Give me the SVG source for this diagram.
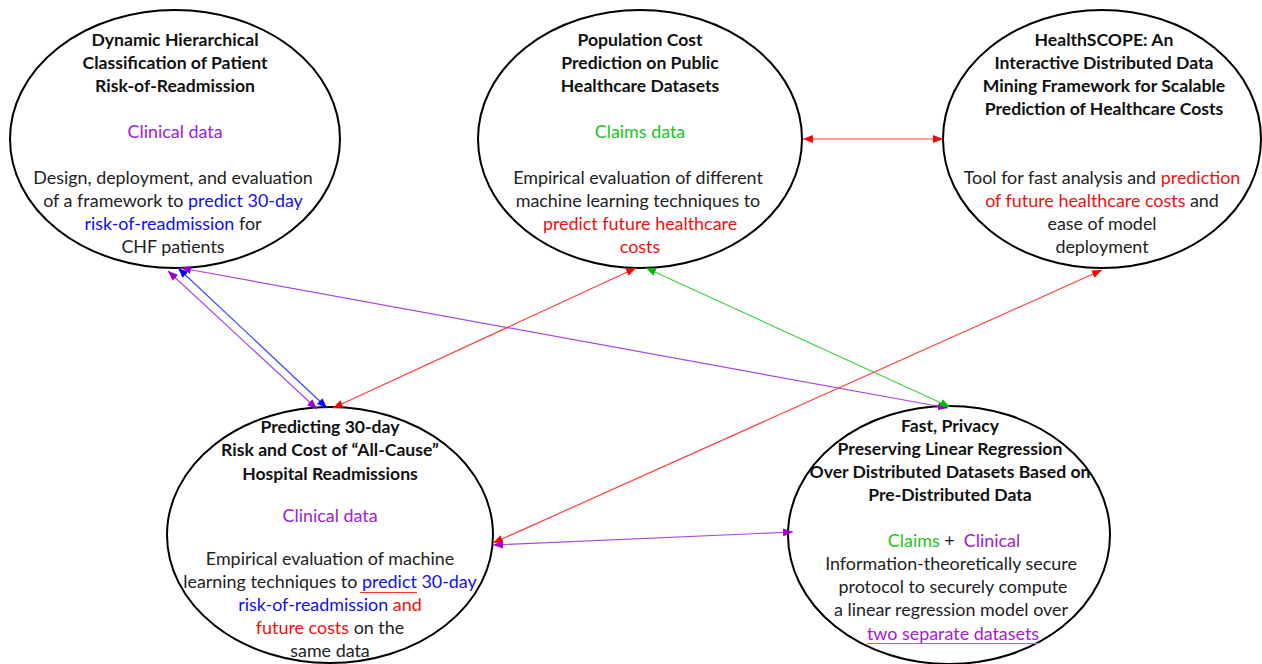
<svg xmlns="http://www.w3.org/2000/svg" width="1262" height="664" viewBox="0 0 1262 664">
<defs>
<style>
.node{fill:#fff;stroke:#000;stroke-width:2}
text{font-family:Lato,"Liberation Sans",sans-serif;font-size:17.9px;text-anchor:middle;fill:#222}
.t{font-weight:bold;fill:#111;font-size:17.6px}
.pu{fill:#A020D8}
.gr{fill:#1DC41D}
.bl{fill:#1010F0}
.rd{fill:#F01010}
.c{fill:none;stroke-width:1.2}
.cr{stroke:#FF4040;marker-start:url(#ar);marker-end:url(#ar)}
.cb{stroke:#4040FF;marker-start:url(#ab);marker-end:url(#ab)}
.cp{stroke:#A848E0;marker-start:url(#ap);marker-end:url(#ap)}
.cg{stroke:#40D040;marker-start:url(#ag);marker-end:url(#ag)}
</style>
<marker id="ar" viewBox="0 0 10 8" refX="10" refY="4" markerWidth="10" markerHeight="8" markerUnits="userSpaceOnUse" orient="auto-start-reverse"><path d="M0,0L10,4L0,8z" fill="#FF0000"/></marker>
<marker id="ab" viewBox="0 0 10 8" refX="10" refY="4" markerWidth="10" markerHeight="8" markerUnits="userSpaceOnUse" orient="auto-start-reverse"><path d="M0,0L10,4L0,8z" fill="#0000FF"/></marker>
<marker id="ap" viewBox="0 0 10 8" refX="10" refY="4" markerWidth="10" markerHeight="8" markerUnits="userSpaceOnUse" orient="auto-start-reverse"><path d="M0,0L10,4L0,8z" fill="#9900CC"/></marker>
<marker id="ag" viewBox="0 0 10 8" refX="10" refY="4" markerWidth="10" markerHeight="8" markerUnits="userSpaceOnUse" orient="auto-start-reverse"><path d="M0,0L10,4L0,8z" fill="#00BB00"/></marker>
</defs>
<rect width="1262" height="664" fill="#fff"/>

<g id="n1">
<ellipse class="node" cx="175" cy="139" rx="165" ry="129"/>
<text class="t" x="175" y="46">Dynamic Hierarchical</text>
<text class="t" x="175" y="69">Classification of Patient</text>
<text class="t" x="175" y="92">Risk-of-Readmission</text>
<text class="pu" x="175" y="138">Clinical data</text>
<text x="173" y="184">Design, deployment, and evaluation</text>
<text x="173" y="207">of a framework to <tspan class="bl">predict 30-day</tspan></text>
<text x="173" y="230"><tspan class="bl">risk-of-readmission</tspan> for</text>
<text x="173" y="253">CHF patients</text>
</g>

<g id="n2">
<ellipse class="node" cx="640" cy="139" rx="162" ry="129"/>
<text class="t" x="640" y="46">Population Cost</text>
<text class="t" x="640" y="69">Prediction on Public</text>
<text class="t" x="640" y="92">Healthcare Datasets</text>
<text class="gr" x="640" y="138">Claims data</text>
<text x="638" y="184">Empirical evaluation of different</text>
<text x="638" y="207">machine learning techniques to</text>
<text class="rd" x="640" y="230">predict future healthcare</text>
<text class="rd" x="640" y="253">costs</text>
</g>

<g id="n3">
<ellipse class="node" cx="1102" cy="139" rx="159" ry="129"/>
<text class="t" x="1104" y="46">HealthSCOPE: An</text>
<text class="t" x="1104" y="69">Interactive Distributed Data</text>
<text class="t" x="1104" y="92">Mining Framework for Scalable</text>
<text class="t" x="1104" y="115">Prediction of Healthcare Costs</text>
<text x="1102" y="184">Tool for fast analysis and <tspan class="rd">prediction</tspan></text>
<text x="1102" y="207"><tspan class="rd">of future healthcare costs</tspan> and</text>
<text x="1102" y="230">ease of model</text>
<text x="1102" y="253">deployment</text>
</g>

<g id="n4">
<ellipse class="node" cx="330" cy="535" rx="163" ry="128"/>
<text class="t" x="330" y="433">Predicting 30-day</text>
<text class="t" x="330" y="456">Risk and Cost of “All-Cause”</text>
<text class="t" x="330" y="480">Hospital Readmissions</text>
<text class="pu" x="330" y="522">Clinical data</text>
<text x="330" y="565">Empirical evaluation of machine</text>
<text x="330" y="588">learning techniques to <tspan class="bl">predict 30-day</tspan></text>
<text x="330" y="611"><tspan class="bl">risk-of-readmission</tspan> <tspan class="rd">and</tspan></text>
<text x="330" y="634"><tspan class="rd">future costs</tspan> on the</text>
<text x="330" y="657">same data</text>
<line x1="360" y1="592.5" x2="417" y2="592.5" stroke="#FF3030" stroke-width="1.2"/>
</g>

<g id="n5">
<ellipse class="node" cx="949" cy="535" rx="161" ry="129"/>
<text class="t" x="950" y="432">Fast, Privacy</text>
<text class="t" x="950" y="455">Preserving Linear Regression</text>
<text class="t" x="950" y="478">Over Distributed Datasets Based on</text>
<text class="t" x="950" y="501">Pre-Distributed Data</text>
<text x="954" y="547" xml:space="preserve"><tspan class="gr">Claims</tspan> +  <tspan class="pu">Clinical</tspan></text>
<text x="951" y="570">Information-theoretically secure</text>
<text x="953" y="593">protocol to securely compute</text>
<text x="951" y="616">a linear regression model over</text>
<text class="pu" x="953" y="640">two separate datasets</text>
<line x1="867" y1="643.5" x2="1039" y2="643.5" stroke="#30C030" stroke-width="1.2"/>
</g>

<g id="connectors">
<line class="c cr" x1="803" y1="139" x2="943" y2="139"/>
<line class="c cp" x1="181" y1="268" x2="948" y2="408"/>
<line class="c cb" x1="178" y1="268" x2="327" y2="408"/>
<line class="c cp" x1="168" y1="271" x2="317" y2="409"/>
<line class="c cr" x1="333" y1="408" x2="636" y2="268"/>
<line class="c cg" x1="646" y1="268" x2="950" y2="407"/>
<line class="c cr" x1="1102" y1="270" x2="493" y2="543"/>
<line class="c cp" x1="493" y1="545" x2="793" y2="532"/>
</g>
</svg>
